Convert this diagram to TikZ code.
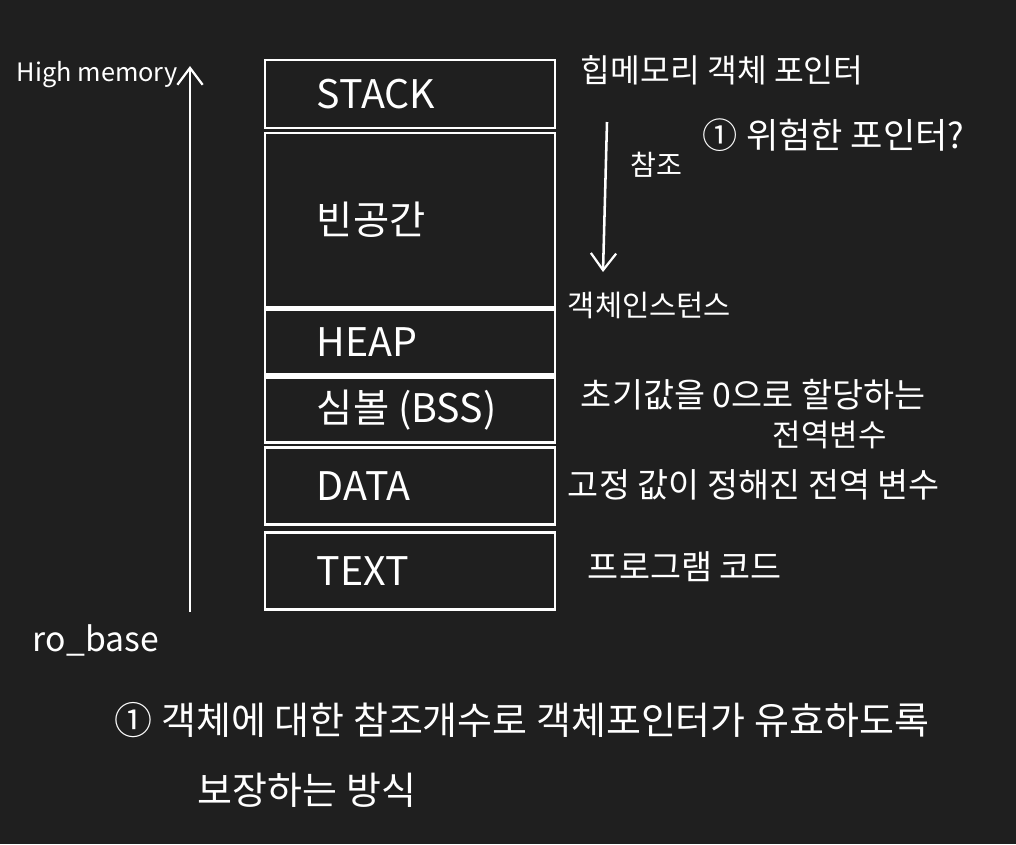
\documentclass[tikz,border=0pt]{standalone}
\usepackage{fontspec}
\setmainfont{Noto Sans CJK KR}
\usetikzlibrary{arrows.meta}
\definecolor{board}{RGB}{31,31,31}
\begin{document}
\begin{tikzpicture}
		[x=0.025cm,y=-0.025cm,
		seg/.style={draw=white,line width=1.6pt,minimum width=7.25cm,inner sep=0pt},
		segtext/.style={anchor=west,text=white,font=\fontsize{28}{32}\selectfont},
		note/.style={anchor=west,text=white,font=\fontsize{24}{28}\selectfont},
		arr/.style={draw=white,line width=1.8pt,-{Straight Barb[length=12pt,width=18pt,line width=1.6pt]}}]
		\fill[board] (0,0) rectangle (1016,844);
		% memory segments
		\foreach \name/\y/\h/\txt in {stack/94/1.7/STACK,empty/220/4.35/빈공간,heap/342/1.625/HEAP,bss/410/1.625/심볼 (BSS),data/486/1.925/DATA,text/571/1.925/TEXT}
		{
			\node[seg,minimum height=\h cm,name=\name] at (410,\y) {};
			\node[segtext] at ([xshift=1.2cm]\name.west) {\txt};
		}
		% address arrow
		\coordinate (low) at (190,612);
		\coordinate (high) at (190,66);
		\draw[arr] (low) -- (high);
		\node[note,name=hm,font=\fontsize{18}{22}\selectfont] at (12,75) {High memory};
		\node[note,name=rb] at (28,640) {ro\_base};
		% notes on the right
		\node[note,name=ptr,font=\fontsize{23}{27}\selectfont] at (576,70) {힙메모리 객체 포인터};
		\node[note,name=risk,font=\fontsize{25}{29}\selectfont] at (698,135) {① 위험한 포인터?};
		\coordinate (ref0) at (607,122);
		\coordinate (ref1) at (603,272);
		\draw[arr] (ref0) -- (ref1);
		\node[note,name=refl,font=\fontsize{20}{24}\selectfont] at (626,165) {참조};
		\node[note,name=inst,font=\fontsize{21}{24}\selectfont] at (563,305) {객체인스턴스};
		\node[note,name=bssa] at (576,395) {초기값을 0으로 할당하는};
		\node[note,name=bssb,font=\fontsize{22}{24}\selectfont] at (768,435) {전역변수};
		\node[note,name=dat] at (563,485) {고정 값이 정해진 전역 변수};
		\node[note,name=txt] at (583,567) {프로그램 코드};
		% footnote
		\node[note,name=foota,font=\fontsize{27}{30}\selectfont] at (110,720) {① 객체에 대한 참조개수로 객체포인터가 유효하도록};
		\node[note,name=footb,font=\fontsize{27}{30}\selectfont] at (193,790) {보장하는 방식};
	\end{tikzpicture}
\end{document}
